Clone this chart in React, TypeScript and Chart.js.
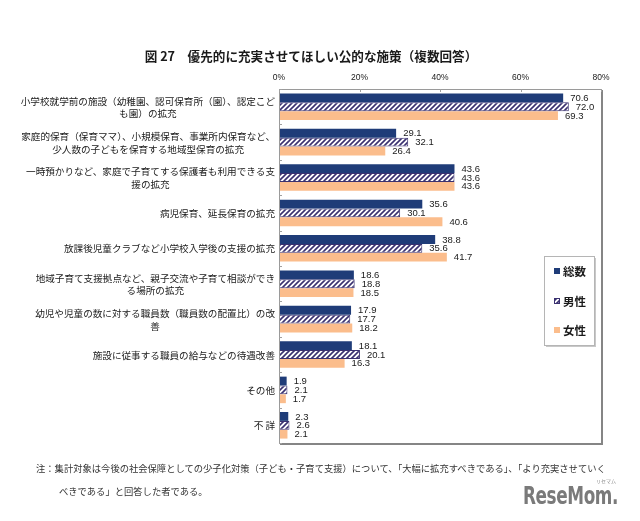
import React, { useEffect, useRef } from "react";
import { Chart, registerables } from "chart.js";

Chart.register(...registerables);

const categories: string[][] = [
  ["小学校就学前の施設（幼稚園、認可保育所（園）、認定こど", "も園）の拡充"],
  ["家庭的保育（保育ママ）、小規模保育、事業所内保育など、", "少人数の子どもを保育する地域型保育の拡充"],
  ["一時預かりなど、家庭で子育てする保護者も利用できる支", "援の拡充"],
  ["病児保育、延長保育の拡充"],
  ["放課後児童クラブなど小学校入学後の支援の拡充"],
  ["地域子育て支援拠点など、親子交流や子育て相談ができ", "る場所の拡充"],
  ["幼児や児童の数に対する職員数（職員数の配置比）の改", "善"],
  ["施設に従事する職員の給与などの待遇改善"],
  ["その他"],
  ["不 詳"],
];

const seriesNames = ["総数", "男性", "女性"];
const totalValues = [70.6, 29.1, 43.6, 35.6, 38.8, 18.6, 17.9, 18.1, 1.9, 2.3];
const maleValues = [72.0, 32.1, 43.6, 30.1, 35.6, 18.8, 17.7, 20.1, 2.1, 2.6];
const femaleValues = [69.3, 26.4, 43.6, 40.6, 41.7, 18.5, 18.2, 16.3, 1.7, 2.1];
const xTickValues = [0, 20, 40, 60, 80];

const titleText = "図 27　優先的に充実させてほしい公的な施策（複数回答）";
const noteLine1 =
  "注：集計対象は今後の社会保障としての少子化対策（子ども・子育て支援）について、「大幅に拡充すべきである」、「より充実させていく";
const noteLine2 = "べきである」と回答した者である。";

const NAVY = "#1f3c78";
const HATCH = "#3a3170";
const ORANGE = "#fbbd8c";
const JP = '"Noto Sans CJK JP", "Noto Sans", sans-serif';

function makeHatch(): CanvasPattern | string {
  const c = document.createElement("canvas");
  const s = 5;
  c.width = s;
  c.height = s;
  const g = c.getContext("2d");
  if (!g) return HATCH;
  g.fillStyle = "#ffffff";
  g.fillRect(0, 0, s, s);
  g.strokeStyle = HATCH;
  g.lineWidth = 1.6;
  g.beginPath();
  g.moveTo(-1, s + 1);
  g.lineTo(s + 1, -1);
  g.moveTo(-s - 1, s + 1);
  g.lineTo(1, -1);
  g.moveTo(-1, 2 * s + 1);
  g.lineTo(2 * s + 1, -1);
  g.stroke();
  return g.createPattern(c, "repeat") || HATCH;
}

const decorPlugin = {
  id: "decor",
  afterDatasetsDraw(chart: any) {
    const ctx: CanvasRenderingContext2D = chart.ctx;
    const area = chart.chartArea;
    const xs = chart.scales.x;
    const ys = chart.scales.y;
    ctx.save();

    // frame
    ctx.strokeStyle = "#9a9a9a";
    ctx.lineWidth = 1;
    ctx.strokeRect(area.left + 0.5, area.top + 0.5, area.right - area.left, area.bottom - area.top);
    ctx.fillStyle = "#858585";
    ctx.fillRect(area.right, area.top + 1, 2, area.bottom - area.top + 1);
    ctx.fillRect(area.left + 1, area.bottom, area.right - area.left + 1, 2);

    // small tick marks
    ctx.strokeStyle = "#a0a0a0";
    ctx.beginPath();
    xTickValues.forEach((v) => {
      const px = Math.round(xs.getPixelForValue(v)) + 0.5;
      ctx.moveTo(px, area.top);
      ctx.lineTo(px, area.top + 3);
    });
    const n = categories.length;
    for (let i = 0; i <= n; i++) {
      const py = Math.round(ys.getPixelForValue(i - 0.5)) + 0.5;
      ctx.moveTo(area.left, py);
      ctx.lineTo(area.left + 3, py);
    }
    ctx.stroke();

    // value labels
    ctx.font = '9.5px "Liberation Sans", Arial, sans-serif';
    ctx.fillStyle = "#1a1a1a";
    ctx.textAlign = "left";
    ctx.textBaseline = "middle";
    chart.data.datasets.forEach((ds: any, di: number) => {
      const meta = chart.getDatasetMeta(di);
      meta.data.forEach((bar: any, i: number) => {
        const v = ds.data[i];
        ctx.fillText(v.toFixed(1), bar.x + 7, bar.y + 0.5);
      });
    });

    // category labels
    ctx.font = `9.6px ${JP}`;
    ctx.fillStyle = "#1a1a1a";
    ctx.textAlign = "center";
    const rightEdge = area.left - 4;
    const lh = 12.5;
    (chart.data.labels as string[][]).forEach((lines, i) => {
      const cy = ys.getPixelForValue(i);
      const w = Math.max(...lines.map((l) => ctx.measureText(l).width));
      const cx = rightEdge - w / 2;
      const start = cy - ((lines.length - 1) * lh) / 2;
      lines.forEach((l, k) => ctx.fillText(l, cx, start + k * lh + 0.5));
    });

    // legend box
    const lx = 544;
    const ly = 256;
    const lw = 50;
    const lhgt = 89;
    ctx.fillStyle = "#ffffff";
    ctx.fillRect(lx, ly, lw, lhgt);
    ctx.strokeStyle = "#b5b5b5";
    ctx.strokeRect(lx + 0.5, ly + 0.5, lw, lhgt);
    ctx.fillStyle = "#c8c8c8";
    ctx.fillRect(lx + lw + 1, ly + 2, 1, lhgt);
    ctx.fillRect(lx + 2, ly + lhgt + 1, lw, 1);
    ctx.font = `bold 11.5px ${JP}`;
    ctx.textAlign = "left";
    const entryY = [271, 301, 330];
    chart.data.datasets.forEach((ds: any, di: number) => {
      const y = entryY[di];
      const mx = 554;
      ctx.fillStyle = ds.backgroundColor;
      ctx.fillRect(mx, y - 3, 6, 6);
      ctx.strokeStyle = ds.borderColor;
      ctx.lineWidth = 1;
      ctx.strokeRect(mx + 0.5, y - 2.5, 5, 5);
      ctx.fillStyle = "#1a1a1a";
      ctx.fillText(ds.label, 563, y + 0.5);
    });

    ctx.restore();
  },
};

export default function App() {
  const canvasRef = useRef<HTMLCanvasElement | null>(null);

  useEffect(() => {
    const canvas = canvasRef.current;
    if (!canvas) return;
    const hatch = makeHatch();
    const chart = new Chart(canvas, {
      type: "bar",
      data: {
        labels: categories as any,
        datasets: [
          {
            label: seriesNames[0],
            data: totalValues,
            backgroundColor: NAVY,
            borderColor: NAVY,
            borderWidth: 0,
          },
          {
            label: seriesNames[1],
            data: maleValues,
            backgroundColor: hatch as any,
            borderColor: HATCH,
            borderWidth: 1,
          },
          {
            label: seriesNames[2],
            data: femaleValues,
            backgroundColor: ORANGE,
            borderColor: ORANGE,
            borderWidth: 0,
          },
        ],
      },
      options: {
        indexAxis: "y",
        responsive: false,
        animation: false,
        devicePixelRatio: 1,
        layout: { padding: { left: 279, right: 39, top: 69, bottom: 78 } },
        datasets: { bar: { categoryPercentage: 0.75, barPercentage: 1 } },
        plugins: {
          legend: { display: false },
          tooltip: { enabled: false },
          title: { display: false },
        },
        scales: {
          x: {
            position: "top",
            min: 0,
            max: 80,
            afterBuildTicks: (scale: any) => {
              scale.ticks = xTickValues.map((v) => ({ value: v }));
            },
            afterFit: (scale: any) => {
              scale.height = 20;
            },
            ticks: {
              padding: 6,
              color: "#1a1a1a",
              font: { size: 8.5, family: '"Liberation Sans", Arial, sans-serif' },
              callback: (v: any) => `${v}%`,
              maxRotation: 0,
            },
            grid: { display: false, drawTicks: false },
            border: { display: false },
          },
          y: {
            display: false,
          },
        },
      } as any,
      plugins: [decorPlugin],
    });
    return () => chart.destroy();
  }, []);

  return (
    <div
      style={{
        position: "fixed",
        left: 0,
        top: 0,
        width: 640,
        height: 521,
        background: "#ffffff",
        overflow: "hidden",
      }}
    >
      <canvas ref={canvasRef} width={640} height={521} style={{ position: "absolute", left: 0, top: 0, width: 640, height: 521 }} />
      <div
        style={{
          position: "absolute",
          left: 0,
          width: 622,
          top: 47,
          textAlign: "center",
          fontFamily: JP,
          fontWeight: "bold",
          fontSize: 12.6,
          lineHeight: "18px",
          color: "#1a1a1a",
          whiteSpace: "nowrap",
        }}
      >
        {titleText}
      </div>
      <div
        style={{
          position: "absolute",
          left: 36,
          top: 462,
          fontFamily: JP,
          fontSize: 9.3,
          lineHeight: "12px",
          color: "#333",
          whiteSpace: "nowrap",
        }}
      >
        {noteLine1}
      </div>
      <div
        style={{
          position: "absolute",
          left: 59,
          top: 485,
          fontFamily: JP,
          fontSize: 9.3,
          lineHeight: "12px",
          color: "#333",
          whiteSpace: "nowrap",
        }}
      >
        {noteLine2}
      </div>
      <div
        style={{
          position: "absolute",
          left: 596,
          top: 478,
          fontFamily: JP,
          fontSize: 5,
          lineHeight: "6px",
          color: "#8a8a8a",
          whiteSpace: "nowrap",
        }}
      >
        リセマム
      </div>
      <div
        style={{
          position: "absolute",
          left: 523,
          top: 481,
          fontFamily: '"DejaVu Sans Condensed", "Liberation Sans", sans-serif',
          fontWeight: "bold",
          fontSize: 24,
          lineHeight: "30px",
          color: "#7a7a7a",
          whiteSpace: "nowrap",
          letterSpacing: -0.5,
          transform: "scaleX(0.78)",
          transformOrigin: "left top",
        }}
      >
        ReseMom.
      </div>
    </div>
  );
}
